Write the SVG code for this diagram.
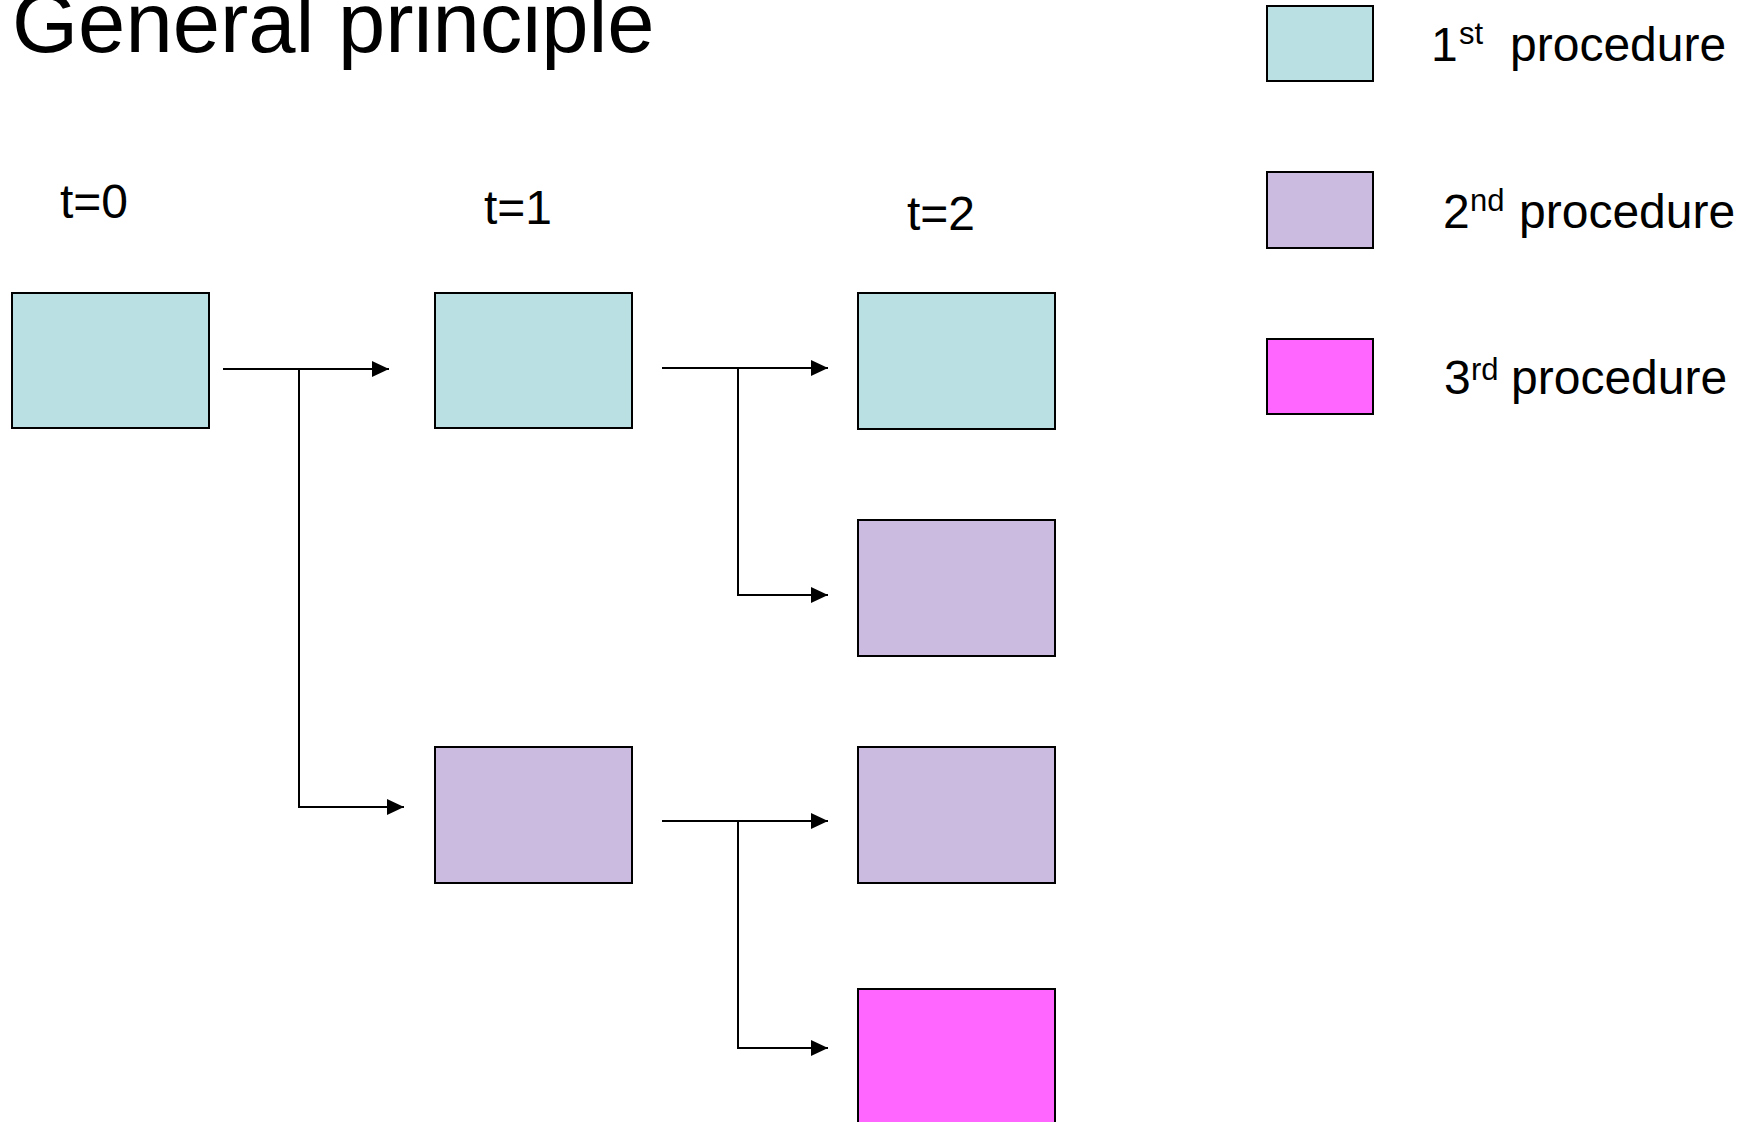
<svg xmlns="http://www.w3.org/2000/svg" width="1743" height="1122" viewBox="0 0 1743 1122">
  <style>
    text { font-family: "Liberation Sans", Arial, sans-serif; fill: #000; }
    .title { font-size: 85px; }
    .lbl { font-size: 48px; }
    .sup { font-size: 31px; }
    .box { stroke: #000; stroke-width: 2; }
    .p1 { fill: #BBE0E3; }
    .p2 { fill: #CCBBE0; }
    .p3 { fill: #FF66FF; }
    .wire { fill: none; stroke: #000; stroke-width: 2; }
    .arrow { marker-end: url(#head); }
  </style>
  <defs>
    <marker id="head" markerUnits="userSpaceOnUse" markerWidth="17" markerHeight="16" refX="17" refY="8" orient="auto">
      <path d="M0,0 L17,8 L0,16 Z" fill="#000"/>
    </marker>
  </defs>

  <rect width="1743" height="1122" fill="#fff"/>

  <text class="title" x="12" y="52">General principle</text>

  <!-- time step headings -->
  <text class="lbl" x="60" y="218">t=0</text>
  <text class="lbl" x="484" y="224">t=1</text>
  <text class="lbl" x="907" y="230">t=2</text>

  <!-- legend -->
  <g id="legend-1">
    <rect class="box p1" x="1267" y="6" width="106" height="75"/>
    <text class="lbl" x="1431" y="61">1</text>
    <text class="sup" x="1459" y="44">st</text>
    <text class="lbl" x="1510" y="61">procedure</text>
  </g>
  <g id="legend-2">
    <rect class="box p2" x="1267" y="172" width="106" height="76"/>
    <text class="lbl" x="1443" y="228">2</text>
    <text class="sup" x="1470" y="211">nd</text>
    <text class="lbl" x="1519" y="228">procedure</text>
  </g>
  <g id="legend-3">
    <rect class="box p3" x="1267" y="339" width="106" height="75"/>
    <text class="lbl" x="1444" y="394">3</text>
    <text class="sup" x="1471" y="380">rd</text>
    <text class="lbl" x="1511" y="394">procedure</text>
  </g>

  <!-- state boxes -->
  <g id="t0-first"><rect class="box p1" x="12" y="293" width="197" height="135"/></g>
  <g id="t1-first"><rect class="box p1" x="435" y="293" width="197" height="135"/></g>
  <g id="t1-second"><rect class="box p2" x="435" y="747" width="197" height="136"/></g>
  <g id="t2-first"><rect class="box p1" x="858" y="293" width="197" height="136"/></g>
  <g id="t2-second-a"><rect class="box p2" x="858" y="520" width="197" height="136"/></g>
  <g id="t2-second-b"><rect class="box p2" x="858" y="747" width="197" height="136"/></g>
  <g id="t2-third"><rect class="box p3" x="858" y="989" width="197" height="160"/></g>

  <!-- transitions -->
  <g id="connectors">
    <line class="wire arrow" x1="223" y1="369" x2="389" y2="369"/>
    <polyline class="wire arrow" points="299,369 299,807 404,807"/>

    <line class="wire arrow" x1="662" y1="368" x2="828" y2="368"/>
    <polyline class="wire arrow" points="738,368 738,595 828,595"/>

    <line class="wire arrow" x1="662" y1="821" x2="828" y2="821"/>
    <polyline class="wire arrow" points="738,821 738,1048 828,1048"/>
  </g>
</svg>
